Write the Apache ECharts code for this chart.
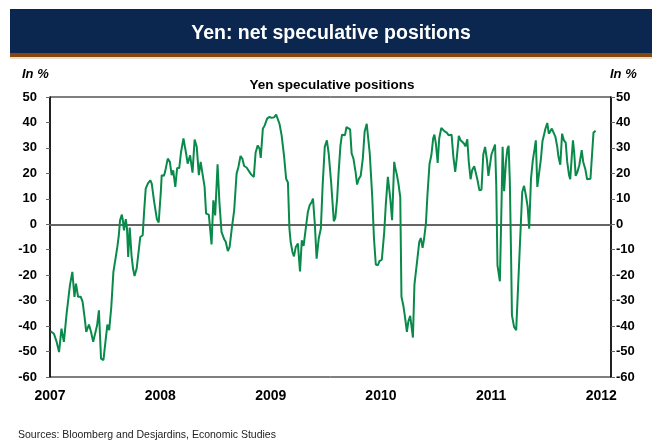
<!DOCTYPE html>
<html>
<head>
<meta charset="utf-8">
<script src="https://cdn.jsdelivr.net/npm/echarts@6/dist/echarts.min.js"></script>
<style>
  html, body { margin: 0; padding: 0; background: #fff; }
  #chart { width: 652px; height: 442px; }
</style>
</head>
<body>
<div id="chart"></div>
<script>
// Weekly CFTC readings, net speculative yen positions (% of open interest)
const dates = [
  '2007-01-03','2007-01-14','2007-01-23','2007-01-31','2007-02-08','2007-02-16','2007-02-25','2007-03-03',
  '2007-03-08','2007-03-16','2007-03-23','2007-03-28','2007-04-04','2007-04-13','2007-04-19','2007-04-26',
  '2007-05-01','2007-05-10','2007-05-17','2007-05-24','2007-05-29','2007-06-06','2007-06-12','2007-06-19',
  '2007-06-27','2007-07-03','2007-07-10','2007-07-16','2007-07-23','2007-07-30','2007-08-06','2007-08-12',
  '2007-08-17','2007-08-21','2007-08-27','2007-08-31','2007-09-03','2007-09-09','2007-09-13','2007-09-17',
  '2007-09-22','2007-09-28','2007-10-03','2007-10-08','2007-10-15','2007-10-22','2007-10-27','2007-11-04',
  '2007-11-09','2007-11-14','2007-11-21','2007-11-29','2007-12-04','2007-12-12','2007-12-21','2007-12-27',
  '2008-01-03','2008-01-06','2008-01-13','2008-01-17','2008-01-26','2008-02-02','2008-02-08','2008-02-13',
  '2008-02-20','2008-02-26','2008-03-04','2008-03-10','2008-03-18','2008-03-26','2008-04-01','2008-04-09',
  '2008-04-17','2008-04-24','2008-05-01','2008-05-08','2008-05-14','2008-05-20','2008-05-27','2008-06-01',
  '2008-06-10','2008-06-19','2008-06-25','2008-07-01','2008-07-09','2008-07-15','2008-07-22','2008-07-31',
  '2008-08-05','2008-08-12','2008-08-18','2008-08-25','2008-09-02','2008-09-10','2008-09-16','2008-09-23',
  '2008-09-29','2008-10-05','2008-10-13','2008-10-19','2008-10-28','2008-11-06','2008-11-12','2008-11-19',
  '2008-11-25','2008-11-29','2008-12-06','2008-12-11','2008-12-20','2008-12-28','2009-01-04','2009-01-12',
  '2009-01-19','2009-01-25','2009-01-30','2009-02-06','2009-02-14','2009-02-21','2009-02-27','2009-03-04',
  '2009-03-08','2009-03-14','2009-03-19','2009-03-25','2009-04-01','2009-04-08','2009-04-14','2009-04-20',
  '2009-04-27','2009-05-04','2009-05-10','2009-05-17','2009-05-21','2009-05-27','2009-06-02','2009-06-09',
  '2009-06-16','2009-06-22','2009-06-29','2009-07-06','2009-07-12','2009-07-20','2009-07-29','2009-08-03',
  '2009-08-09','2009-08-14','2009-08-20','2009-08-25','2009-08-30','2009-09-04','2009-09-09','2009-09-14',
  '2009-09-21','2009-09-26','2009-10-02','2009-10-09','2009-10-14','2009-10-20','2009-10-26','2009-11-02',
  '2009-11-08','2009-11-15','2009-11-20','2009-11-25','2009-12-03','2009-12-09','2009-12-15','2009-12-22',
  '2009-12-27','2010-01-04','2010-01-12','2010-01-17','2010-01-24','2010-02-01','2010-02-07','2010-02-14',
  '2010-02-17','2010-02-23','2010-02-28','2010-03-06','2010-03-10','2010-03-16','2010-03-21','2010-03-28',
  '2010-04-02','2010-04-08','2010-04-12','2010-04-17','2010-04-22','2010-04-28','2010-05-03','2010-05-08',
  '2010-05-13','2010-05-19','2010-05-24','2010-05-30','2010-06-04','2010-06-11','2010-06-17','2010-06-23',
  '2010-06-27','2010-07-02','2010-07-08','2010-07-13','2010-07-20','2010-07-25','2010-07-31','2010-08-07',
  '2010-08-13','2010-08-18','2010-08-23','2010-08-29','2010-09-04','2010-09-09','2010-09-16','2010-09-22',
  '2010-09-27','2010-10-03','2010-10-08','2010-10-14','2010-10-19','2010-10-25','2010-10-30','2010-11-06',
  '2010-11-11','2010-11-17','2010-11-23','2010-11-30','2010-12-06','2010-12-12','2010-12-18','2010-12-23',
  '2010-12-28','2011-01-02','2011-01-08','2011-01-14','2011-01-18','2011-01-22','2011-01-30','2011-02-05',
  '2011-02-08','2011-02-13','2011-02-19','2011-02-24','2011-02-28','2011-03-04','2011-03-08','2011-03-11',
  '2011-03-18','2011-03-25','2011-03-29','2011-04-14','2011-04-20','2011-04-26','2011-05-02','2011-05-07',
  '2011-05-13','2011-05-19','2011-05-25','2011-05-29','2011-06-03','2011-06-08','2011-06-15','2011-06-20',
  '2011-06-26','2011-06-30','2011-07-06','2011-07-11','2011-07-16','2011-07-21','2011-07-27','2011-08-02',
  '2011-08-08','2011-08-12','2011-08-18','2011-08-24','2011-08-30','2011-09-05','2011-09-10','2011-09-16',
  '2011-09-20','2011-09-25','2011-09-29','2011-10-03','2011-10-08','2011-10-13','2011-10-20','2011-10-28',
  '2011-11-02','2011-11-09','2011-11-15','2011-11-21','2011-11-26','2011-11-30','2011-12-06','2011-12-13'
];

const netPositions = [
  -42.0, -43.0, -46.2, -50.2, -41.0, -46.2, -35.1, -35.1,
  -24.0, -18.7, -28.5, -23.3, -28.5, -28.5, -30.5, -37.0,
  -42.3, -39.4, -42.3, -46.2, -46.2, -39.7, -33.8, -52.8,
  -53.4, -46.9, -39.4, -41.6, -32.5, -18.7, -13.5, -8.9,
  -4.3, 1.6, 3.8, 0.9, -2.4, 2.0, -1.7, -12.8,
  -1.3, -12.2, -17.4, -20.3, -17.4, -10.2, -5.0, -4.3,
  5.5, 14.0, 16.0, 17.3, 16.0, 8.8, 2.0, 0.7,
  12.7, 19.3, 19.0, 20.5, 25.8, 24.5, 19.3, 21.2,
  14.7, 22.1, 22.1, 28.4, 33.7, 28.4, 23.8, 27.1,
  20.3, 33.3, 30.4, 19.3, 24.5, 19.9, 14.7, 4.2,
  3.8, -7.9, 9.4, 3.5, 23.6, 8.8, -3.0, -5.9,
  -6.9, -10.5, -8.9, -1.7, 5.5, 19.9, 22.5, 26.8,
  25.8, 22.9, 22.3, 21.9, 19.6, 18.6, 28.2, 31.0,
  29.7, 26.1, 37.6, 38.5, 41.5, 42.2, 41.8, 42.0,
  43.1, 42.8, 39.5, 35.0, 27.1, 17.9, 16.4, -1.7,
  -6.9, -10.9, -12.6, -8.9, -7.6, -18.5, -6.3, -8.5,
  -1.7, 4.8, 7.5, 8.8, 10.1, 0.3, -13.5, -5.6,
  -1.7, 15.3, 30.4, 33.0, 27.8, 16.6, 1.2, 2.5,
  10.1, 20.6, 31.0, 35.2, 34.6, 35.0, 38.2, 37.8,
  37.3, 27.8, 25.8, 20.6, 15.6, 17.9, 19.0, 25.8,
  36.3, 39.5, 39.5, 27.8, 11.4, -5.6, -15.8, -16.1,
  -14.5, -13.9, -3.0, 7.5, 18.6, 10.1, 1.6, 24.5,
  22.5, 19.3, 16.0, 10.7, -28.5, -31.8, -35.8, -42.3,
  -38.1, -36.0, -36.4, -44.5, -23.7, -23.7, -12.2, -6.9,
  -5.4, -9.3, -5.6, 0.3, 11.4, 23.8, 27.1, 33.7,
  35.2, 31.7, 24.1, 33.7, 37.8, 37.2, 36.5, 36.0,
  35.0, 35.2, 35.2, 26.5, 20.6, 25.8, 34.7, 33.0,
  33.0, 31.7, 30.6, 33.4, 24.5, 17.7, 21.2, 22.8,
  20.3, 17.3, 13.4, 13.6, 27.4, 30.4, 25.5, 19.0,
  18.6, 27.4, 27.4, 31.3, 15.3, -16.1, -22.4, 11.4,
  30.4, 13.0, 24.5, 29.7, 30.8, 16.6, -12.2, -35.8,
  -40.3, -41.6, -41.0, 12.7, 15.1, 11.4, 6.8, -1.7,
  17.9, 25.1, 29.7, 33.0, 14.7, 15.1, 25.8, 32.6,
  35.6, 37.6, 39.8, 35.6, 36.5, 37.6, 36.9, 34.3,
  30.4, 26.5, 23.4, 35.6, 33.0, 32.1, 24.5, 19.3,
  17.7, 26.5, 33.0, 28.4, 19.0, 20.3, 23.2, 29.1,
  24.5, 21.6, 17.7, 18.2, 17.9, 17.3, 36.0, 36.7
];

const yearLabels = [2007, 2008, 2009, 2010, 2011, 2012];
const axisStart = '2007-01-01';
const axisEnd = '2012-02-02';

const FONT = '"Liberation Sans", Arial, sans-serif';
const toMs = s => Date.parse(s + 'T00:00:00Z');
const seriesData = dates.map((d, i) => [toMs(d), netPositions[i]]);
const yearTicks = yearLabels.map(y => Date.UTC(y, 0, 1));

const valueAxis = (position, margin) => ({
  type: 'value',
  position: position,
  min: -60,
  max: 50,
  interval: 10,
  axisLine: { show: true, lineStyle: { color: '#000', width: 1.5 } },
  axisTick: { show: true, inside: false, length: 4, lineStyle: { color: '#666', width: 1 } },
  axisLabel: { margin: margin, color: '#000', fontFamily: FONT, fontWeight: 'bold', fontSize: 13 },
  splitLine: { show: false }
});

const text = (content, pos, style) => Object.assign({ text: content, padding: 0 }, pos, {
  textStyle: Object.assign({ color: '#000', fontFamily: FONT, fontWeight: 'bold' }, style)
});

const chart = echarts.init(document.getElementById('chart'), null, { renderer: 'canvas' });
chart.setOption({
  animation: false,
  backgroundColor: '#fff',
  graphic: [
    { type: 'rect', shape: { x: 10, y: 9, width: 642, height: 44 }, style: { fill: '#0b264f' }, z: 0 },
    { type: 'rect', shape: { x: 10, y: 53, width: 642, height: 4 }, style: { fill: '#86470c' }, z: 0 },
    { type: 'rect', shape: { x: 10, y: 57, width: 642, height: 2 }, style: { fill: '#eadccb' }, z: 0 }
  ],
  title: [
    text('Yen: net speculative positions', { left: 331, top: 24, textAlign: 'center' },
      { color: '#fff', fontSize: 19.5 }),
    text('Yen speculative positions', { left: 332, top: 78, textAlign: 'center' },
      { fontSize: 13.5 }),
    text('In %', { left: 22, top: 68 }, { fontStyle: 'italic', fontSize: 13 }),
    text('In %', { left: 610, top: 68 }, { fontStyle: 'italic', fontSize: 13 }),
    text('Sources: Bloomberg and Desjardins, Economic Studies', { left: 18, top: 430 },
      { color: '#222', fontWeight: 'normal', fontSize: 10.5 })
  ],
  grid: {
    left: 50, right: 41, top: 97, bottom: 65,
    show: true, borderColor: '#000', borderWidth: 1, backgroundColor: 'transparent'
  },
  xAxis: {
    type: 'value',
    min: toMs(axisStart),
    max: toMs(axisEnd),
    axisLine: { show: true, lineStyle: { color: '#777', width: 1.5 } },
    axisTick: { show: false },
    splitLine: { show: false },
    axisLabel: {
      customValues: yearTicks,
      margin: 12,
      color: '#000',
      fontFamily: FONT,
      fontWeight: 'bold',
      fontSize: 14,
      hideOverlap: false,
      formatter: v => String(new Date(v).getUTCFullYear())
    }
  },
  yAxis: [valueAxis('left', 13), valueAxis('right', 5)],
  series: [{
    type: 'line',
    data: seriesData,
    showSymbol: false,
    symbol: 'none',
    smooth: false,
    lineStyle: { color: '#0a8a4a', width: 2 },
    z: 3,
    markLine: {
      silent: true,
      symbol: 'none',
      label: { show: false },
      lineStyle: { color: '#555', width: 1.5, type: 'solid' },
      data: [{ yAxis: 0 }],
      z: 2
    }
  }]
});
</script>
</body>
</html>
